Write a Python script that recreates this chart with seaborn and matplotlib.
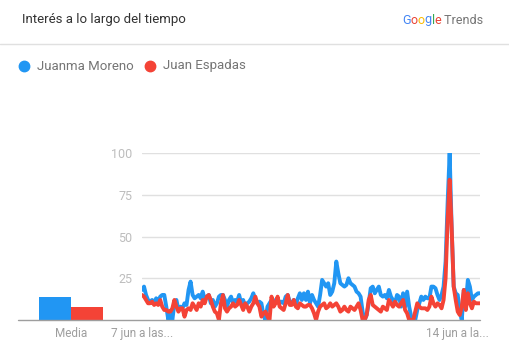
import numpy as np
import pandas as pd
import matplotlib
matplotlib.use("Agg")
import matplotlib.pyplot as plt
import seaborn as sns

series_names = ["Juanma Moreno", "Juan Espadas"]
colors = ["#2196f3", "#f44336"]

juanma = [18, 20, 15, 12, 11, 12, 10, 13, 11, 14,
          15, 15, 8, 0, 3, 0, 10, 12, 6, 8,
          7, 10, 9, 18, 23, 15, 13, 14, 15, 13,
          17, 12, 14, 15, 10, 12, 8, 10, 14, 15,
          15, 12, 8, 12, 14, 10, 12, 11, 15, 10,
          12, 8, 10, 11, 13, 16, 12, 10, 11, 10,
          3, 0, 8, 10, 12, 11, 12, 13, 10, 11,
          10, 14, 15, 11, 10, 12, 9, 13, 16, 12,
          16, 12, 17, 10, 15, 12, 10, 8, 15, 24,
          22, 20, 22, 15, 17, 22, 35, 28, 22, 21,
          20, 21, 25, 22, 21, 20, 17, 16, 14, 5,
          0, 3, 10, 19, 20, 16, 18, 20, 15, 14,
          15, 13, 18, 14, 12, 10, 15, 14, 8, 16,
          8, 17, 8, 2, 0, 0, 6, 10, 14, 12,
          14, 13, 13, 20, 20, 19, 15, 12, 15, 20,
          35, 70, 100, 55, 20, 16, 15, 5, 0, 18,
          10, 24, 20, 12, 14, 15, 16, 16]

espadas = [15, 14, 12, 10, 10, 11, 9, 10, 9, 12,
           8, 6, 6, 5, 5, 7, 12, 8, 5, 7,
           7, 2, 6, 7, 6, 10, 8, 6, 10, 8,
           12, 10, 14, 15, 12, 8, 5, 4, 0, 10,
           15, 7, 5, 7, 8, 10, 8, 9, 12, 9,
           6, 10, 8, 5, 8, 10, 14, 10, 8, 2,
           4, 5, 2, 0, 14, 8, 10, 14, 8, 7,
           6, 10, 15, 9, 9, 12, 8, 7, 10, 9,
           8, 8, 9, 9, 7, 4, 0, 5, 8, 9,
           10, 7, 8, 10, 8, 9, 10, 8, 5, 6,
           8, 6, 5, 8, 7, 6, 8, 10, 6, 0,
           0, 3, 12, 15, 9, 8, 7, 6, 5, 8,
           7, 6, 12, 10, 8, 11, 9, 8, 10, 12,
           6, 4, 0, 0, 0, 5, 10, 8, 7, 7,
           7, 6, 8, 14, 10, 8, 10, 9, 7, 12,
           25, 60, 84, 55, 20, 12, 5, 3, 8, 18,
           6, 16, 10, 7, 11, 10, 10, 10]

averages = [14, 8]
y_ticks = [25, 50, 75, 100]
x_tick_labels = ["7 jun a las...", "14 jun a la..."]
x_tick_index = [0, 156]

W, H = 510, 349
sns.set_theme(style="white")
plt.rcParams["font.family"] = ["Roboto", "DejaVu Sans"]

fig = plt.figure(figsize=(W / 100, H / 100), dpi=100)

def fx(px):
    return px / W

def fy(py):
    return 1 - py / H

# Header
fig.text(fx(22), fy(20), "Interés a lo largo del tiempo", fontsize=9.5,
         color="#333333", va="center", ha="left")
fig.add_artist(plt.Line2D([0, 1], [fy(43.5), fy(43.5)], color="#e0e0e0", lw=1))

# Google Trends logo
renderer = fig.canvas.get_renderer()
parts = [("G", "#4285F4"), ("o", "#EA4335"), ("o", "#FBBC05"), ("g", "#4285F4"),
         ("l", "#34A853"), ("e", "#EA4335"), (" Trends", "#757575")]
x = 402
for s, c in parts:
    t = fig.text(fx(x), fy(20), s, fontsize=9, color=c, va="center", ha="left")
    bb = t.get_window_extent(renderer=renderer)
    x += bb.width

# Legend
leg_items = [(24, 37), (150, 163)]
for (dx, tx), name, c in zip(leg_items, series_names, colors):
    fig.add_artist(plt.Line2D([fx(dx)], [fy(66)], marker="o", markersize=7.5,
                              color=c, lw=0))
    fig.text(fx(tx), fy(66), name, fontsize=9.5, color="#757575", va="center", ha="left")

left, right, top, bottom = 142, 480, 153, 320

# Average bars axes
bl, br = 18, 120
ax2 = fig.add_axes([fx(bl), fy(bottom), fx(br - bl), (bottom - top) / H])
ax2.patch.set_visible(False)
dfa = pd.DataFrame({"s": series_names, "v": averages})
sns.barplot(data=dfa, x="s", y="v", hue="s", palette=colors, width=1.0,
            legend=False, ax=ax2, saturation=1, linewidth=0)
ax2.set_xlim(-(55 - bl) / 32, (br - 55) / 32)
ax2.set_ylim(0, 100)
ax2.set_xticks([0.5])
ax2.set_xticklabels(["Media"])
ax2.tick_params(axis="x", length=0, pad=5, labelsize=8.5, labelcolor="#9e9e9e")
ax2.set_yticks([])
ax2.set_xlabel("")
ax2.set_ylabel("")
for sp in ["top", "right", "left", "bottom"]:
    ax2.spines[sp].set_visible(False)

# Main axes
ax = fig.add_axes([fx(left), fy(bottom), fx(right - left), (bottom - top) / H])
ax.patch.set_visible(False)
df = pd.DataFrame({
    "t": list(range(len(juanma))) * 2,
    "v": juanma + espadas,
    "s": [series_names[0]] * len(juanma) + [series_names[1]] * len(espadas),
})
sns.lineplot(data=df, x="t", y="v", hue="s", palette=colors, linewidth=2.8,
             legend=False, ax=ax)
ax.set_xlim(0, len(juanma) - 1)
ax.set_ylim(0, 100)
ax.set_yticks(y_ticks)
ax.set_yticklabels([str(v) for v in y_ticks])
ax.yaxis.grid(True, color="#e0e0e0", lw=1)
ax.set_axisbelow(True)
ax.tick_params(axis="y", length=0, pad=7, labelsize=9, labelcolor="#bdbdbd")
ax.set_xticks(x_tick_index)
ax.set_xticklabels(x_tick_labels)
ax.tick_params(axis="x", length=0, pad=5, labelsize=8.5, labelcolor="#9e9e9e")
ax.set_xlabel("")
ax.set_ylabel("")
for sp in ["top", "right", "left", "bottom"]:
    ax.spines[sp].set_visible(False)

# Baseline
fig.add_artist(plt.Line2D([fx(18), fx(480)], [fy(320), fy(320)], color="#9e9e9e", lw=1))

fig.savefig("out.png", dpi=100)
